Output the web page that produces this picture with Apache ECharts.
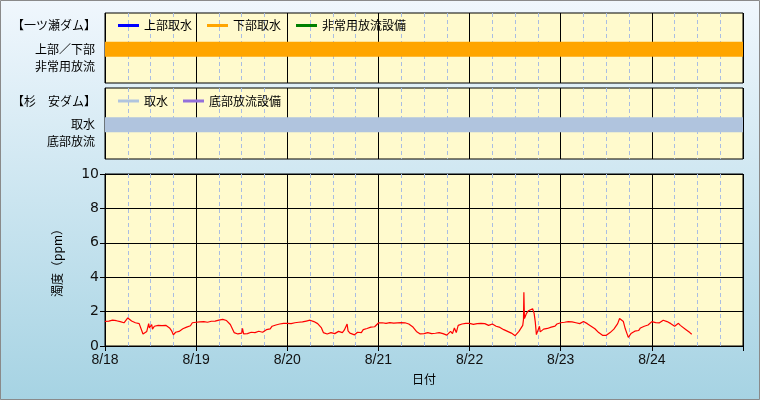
<!DOCTYPE html>
<html><head><meta charset="utf-8">
<script src="https://cdn.jsdelivr.net/npm/echarts@6/dist/echarts.min.js"></script>
<style>html,body{margin:0;padding:0;}#c{width:760px;height:400px;}</style>
</head><body><div id="c"></div>
<script>
// ---- data ----
const dayLabels = ['8/18','8/19','8/20','8/21','8/22','8/23','8/24'];
const damARowLabels = ['', '非常用放流', '上部／下部'];
const damBRowLabels = ['', '底部放流', '取水'];
const damALegend = ['上部取水','下部取水','非常用放流設備'];
const damBLegend = ['取水','底部放流設備'];
// operating periods (hours from 8/18 0:00)
const lowerIntakePeriod = [0, 168];
const intakePeriod = [0, 168];
// hourly turbidity (ppm), one array per day
const turb0818 = [1.43,1.45,1.5,1.47,1.42,1.35,1.63,1.45,1.35,1.3,0.7,0.85,1.1,1.15,1.2,1.18,1.2,1.05,0.65,0.8,0.95,1.05,1.15,1.35];
const turb0819 = [1.38,1.4,1.42,1.38,1.44,1.45,1.5,1.55,1.48,1.25,0.78,0.7,0.75,0.65,0.78,0.85,0.82,0.85,0.9,1.05,1.15,1.22,1.28,1.32];
const turb0820 = [1.32,1.3,1.35,1.38,1.4,1.45,1.5,1.42,1.3,1.05,0.85,0.75,0.72,0.8,0.82,0.92,0.88,0.72,0.7,0.85,0.95,1.02,1.1,1.12];
const turb0821 = [1.34,1.35,1.32,1.36,1.33,1.35,1.36,1.35,1.28,1.12,0.85,0.7,0.72,0.78,0.72,0.74,0.78,0.72,0.63,0.85,1.05,1.2,1.28,1.32];
const turb0822 = [1.32,1.26,1.3,1.32,1.3,1.2,1.28,1.15,1.08,0.95,0.85,0.75,0.6,0.85,1.2,1.9,2.12,1.9,0.6,0.9,1.05,1.12,1.2,1.28];
const turb0823 = [1.35,1.38,1.42,1.4,1.35,1.3,1.42,1.3,1.15,1.0,0.78,0.62,0.62,0.78,0.98,1.3,1.68,1.0,0.58,0.8,0.92,1.05,1.15,1.22];
const turb0824 = [1.42,1.36,1.35,1.5,1.42,1.3,1.15,1.32,1.12,0.95,0.78];
// extra readings between hours: [hours from 8/18 0:00, ppm]
const turbExtra = [
  [0.5,1.4],[1.5,1.5],[2.5,1.44],[3.5,1.48],[4.5,1.38],[5.5,1.35],[6.5,1.52],[7.5,1.36],[8.5,1.3],[9.5,1.33],
  [10.4,0.6],[11.3,0.95],[11.5,1.3],[11.7,1.05],[12.3,1.25],[12.5,0.98],[13.5,1.22],[14.5,1.12],[15.5,1.22],[16.5,1.15],
  [17.5,0.9],[18.3,0.62],[18.6,0.8],[19.5,0.85],[20.5,1.0],[21.5,1.1],[22.5,1.18],
  [24.5,1.42],[25.5,1.36],[26.5,1.4],[27.5,1.44],[28.5,1.4],[29.5,1.48],[30.5,1.46],[31.5,1.5],[32.5,1.45],
  [34.5,0.72],[35.5,0.65],[36.2,1.02],[36.5,0.7],[37.5,0.72],[38.5,0.8],[39.5,0.78],[40.5,0.86],[41.5,0.8],
  [42.5,0.95],[43.5,1.0],[44.5,1.12],[45.5,1.2],[46.5,1.25],
  [48.5,1.3],[49.5,1.34],[50.5,1.32],[51.5,1.4],[52.5,1.38],[53.5,1.5],[54.5,1.45],
  [57.5,0.78],[58.5,0.7],[59.5,0.78],[60.5,0.72],[61.5,0.85],[62.5,0.78],[63.75,1.28],[64.5,0.75],[65.7,0.65],[66.5,0.8],[67.5,0.78],
  [72.5,1.38],[73.5,1.3],[74.5,1.36],[75.5,1.32],[76.5,1.38],[77.5,1.33],[78.5,1.38],[79.5,1.3],
  [84.5,0.72],[85.5,0.8],[86.5,0.7],[87.5,0.76],[88.5,0.7],[89.5,0.82],[90.5,0.68],
  [91.5,0.72],[92.5,0.78],[93.5,1.12],[94.5,1.25],[95.5,1.3],
  [96.5,1.28],[97.5,1.22],[98.5,1.3],[99.5,1.26],[100.5,1.32],[101.5,1.24],[102.5,1.3],
  [110.2,1.55],[110.3,3.12],[110.45,1.6],[111.5,2.05],[112.6,2.17],[113.3,1.4],[113.6,0.66],[114.4,1.15],[114.6,0.82],
  [115.5,0.98],[116.5,1.02],[117.5,1.1],[118.5,1.16],[119.5,1.2],
  [120.5,1.38],[121.5,1.34],[122.5,1.4],[123.5,1.44],[124.5,1.3],[125.5,1.36],[126.5,1.35],
  [135.5,1.6],[136.5,1.42],[137.4,0.75],[137.8,0.5],[138.5,0.72],[139.5,0.86],[140.5,0.9],[141.5,1.0],[142.5,1.12],
  [144.5,1.38],[145.5,1.33],[147.4,1.57],[148.5,1.36],[150.5,1.25],[151.5,1.2],[154.5,0.68]];

// ---- build ----
const days = [turb0818,turb0819,turb0820,turb0821,turb0822,turb0823,turb0824];
let turb = [];
days.forEach((arr,d)=>arr.forEach((v,h)=>turb.push([d*24+h, v])));
turb = turb.concat(turbExtra).sort((a,b)=>a[0]-b[0]);

const CJK = '"Noto Sans CJK JP", sans-serif';
const gridBg = '#fffacd';
function xAx(gi, withLabels){
  return {
    type:'value', gridIndex:gi, min:0, max:168, interval:24,
    axisLine:{show:withLabels, lineStyle:{color:'#000'}},
    axisTick:{show:withLabels, length:5, lineStyle:{color:'#000'}},
    axisLabel:{show:withLabels, margin:7, color:'#111', fontSize:14,
      fontFamily:'"Liberation Sans Narrow", "Arial Narrow", sans-serif',
      formatter:v=>dayLabels[v/24] || ''},
    splitLine:{show:true, lineStyle:{color:'#000', width:1}},
    minorTick:{show:false, splitNumber:4},
    minorSplitLine:{show:true, lineStyle:{color:'#a9bde3', type:[4,3], width:1}},
    name: withLabels ? '日付' : '', nameLocation:'middle', nameGap:27,
    nameTextStyle:{fontSize:12, color:'#000', fontFamily:CJK}
  };
}
function yTop(gi, labels){
  return {
    type:'value', gridIndex:gi, min:0, max:4.15, interval:1,
    axisLine:{show:false}, axisTick:{show:false}, splitLine:{show:false},
    axisLabel:{margin:10, fontSize:12, color:'#000', fontFamily:CJK, showMaxLabel:false,
      formatter:v=>labels[v] || ''}
  };
}
const option = {
  animation:false,
  backgroundColor:{type:'linear',x:0,y:0,x2:0,y2:1,
    colorStops:[{offset:0,color:'#f0f7fd'},{offset:1,color:'#a6d3e3'}]},
  title:[
    {text:'【一ツ瀬ダム】', left:12, top:19, padding:0,
      textStyle:{fontSize:12, fontWeight:'normal', color:'#000', fontFamily:CJK}},
    {text:'【杉　安ダム】', left:12, top:95, padding:0,
      textStyle:{fontSize:12, fontWeight:'normal', color:'#000', fontFamily:CJK}}
  ],
  legend:[
    {data:damALegend, left:118, top:19.5, padding:0, itemGap:15, itemWidth:21, itemHeight:3,
      icon:'rect', textStyle:{fontSize:12, color:'#000', fontFamily:CJK}},
    {data:damBLegend, left:118, top:95, padding:0, itemGap:15, itemWidth:21, itemHeight:3,
      icon:'rect', textStyle:{fontSize:12, color:'#000', fontFamily:CJK}}
  ],
  grid:[
    {left:105, right:17, top:13, height:70, show:true, backgroundColor:gridBg, borderColor:'#000', borderWidth:1},
    {left:105, right:17, top:88, height:71, show:true, backgroundColor:gridBg, borderColor:'#000', borderWidth:1},
    {left:105, right:17, top:174, height:172, show:true, backgroundColor:gridBg, borderColor:'#000', borderWidth:1}
  ],
  xAxis:[xAx(0,false), xAx(1,false), xAx(2,true)],
  yAxis:[
    yTop(0, damARowLabels), yTop(1, damBRowLabels),
    {type:'value', gridIndex:2, min:0, max:10, interval:2,
      axisLine:{show:true, lineStyle:{color:'#000'}},
      axisTick:{show:true, length:5, lineStyle:{color:'#000'}},
      axisLabel:{margin:6, fontSize:14, color:'#111', fontFamily:'"DejaVu Sans", sans-serif'},
      splitLine:{show:true, lineStyle:{color:'#000', width:1}},
      name:'濁度（ppm）', nameLocation:'middle', nameGap:42,
      nameTextStyle:{fontSize:12, color:'#000', fontFamily:CJK}}
  ],
  graphic:[{type:'rect', silent:true, z:100, shape:{x:0.5,y:0.5,width:759,height:399},
    style:{fill:'none', stroke:'#8a8a8a', lineWidth:1}}],
  series:[
    {name:'上部取水', type:'line', xAxisIndex:0, yAxisIndex:0, color:'#0000ff', data:[]},
    {name:'下部取水', type:'line', xAxisIndex:0, yAxisIndex:0, color:'#ffa500', showSymbol:false,
      lineStyle:{width:15, color:'#ffa500', cap:'butt'}, data:lowerIntakePeriod.map(x=>[x,2])},
    {name:'非常用放流設備', type:'line', xAxisIndex:0, yAxisIndex:0, color:'#008000', data:[]},
    {name:'取水', type:'line', xAxisIndex:1, yAxisIndex:1, color:'#b0c4de', showSymbol:false,
      lineStyle:{width:15, color:'#b0c4de', cap:'butt'}, data:intakePeriod.map(x=>[x,2])},
    {name:'底部放流設備', type:'line', xAxisIndex:1, yAxisIndex:1, color:'#9370db', data:[]},
    {name:'濁度', type:'line', xAxisIndex:2, yAxisIndex:2, showSymbol:false, color:'#ff0000',
      lineStyle:{width:1.2, color:'#ff0000'}, data:turb}
  ]
};
echarts.init(document.getElementById('c')).setOption(option);
</script></body></html>
